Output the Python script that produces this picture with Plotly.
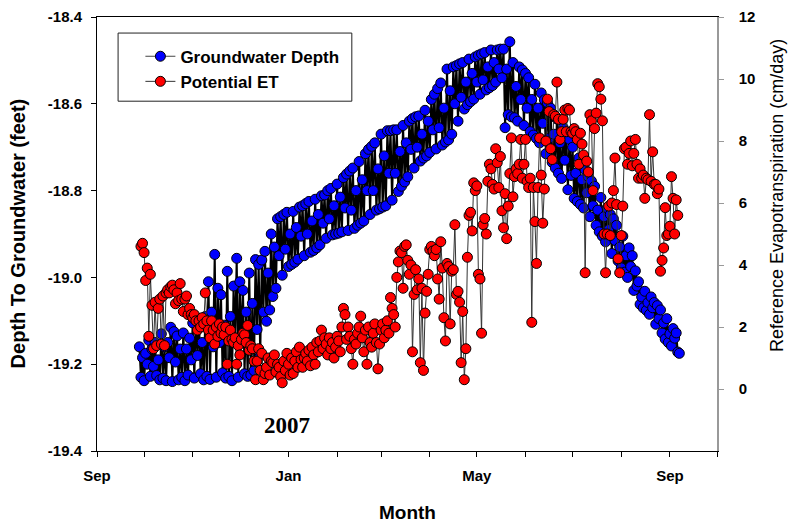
import plotly.graph_objects as go
import pandas as pd

# ---------------- data ----------------
gw_start = "2006-09-28"   # one reading per day (readings swing within the daily range)
gw_depth = [
    -19.160, -19.230, -19.185, -19.238, -19.175, -19.200, -19.145,
    -19.228, -19.165, -19.205, -19.150, -19.226, -19.190, -19.236,
    -19.130, -19.232, -19.160, -19.238, -19.150, -19.185, -19.115,
    -19.240, -19.125, -19.195, -19.135, -19.236, -19.165, -19.230,
    -19.128, -19.238, -19.165, -19.225, -19.140, -19.190, -19.105,
    -19.232, -19.095, -19.180, -19.100, -19.222, -19.150, -19.236,
    -19.090, -19.228, -19.010, -19.235, -19.080, -19.160, -18.947,
    -19.230, -19.025, -19.150, -19.040, -19.220, -19.110, -19.232,
    -18.986, -19.228, -19.090, -19.238, -19.020, -19.140, -18.956,
    -19.230, -19.010, -19.150, -19.030, -19.222, -19.080, -19.228,
    -18.990, -19.225, -19.060, -19.215, -18.959, -19.120, -18.970,
    -19.180, -18.960, -19.080, -18.940, -19.101, -18.990, -19.075,
    -18.900, -19.044, -18.930, -19.025, -18.865, -18.950, -18.860,
    -18.995, -18.855, -18.935, -18.850, -18.975, -18.900, -18.970,
    -18.848, -18.965, -18.885, -18.958, -18.838, -18.905, -18.835,
    -18.950, -18.830, -18.900, -18.825, -18.942, -18.870, -18.938,
    -18.820, -18.932, -18.855, -18.925, -18.812, -18.875, -18.810,
    -18.910, -18.800, -18.865, -18.795, -18.902, -18.835, -18.900,
    -18.785, -18.898, -18.815, -18.895, -18.770, -18.840, -18.762,
    -18.892, -18.755, -18.845, -18.748, -18.887, -18.800, -18.880,
    -18.733, -18.875, -18.775, -18.870, -18.715, -18.800, -18.705,
    -18.855, -18.698, -18.800, -18.690, -18.845, -18.750, -18.842,
    -18.670, -18.838, -18.720, -18.835, -18.662, -18.760, -18.662,
    -18.822, -18.660, -18.760, -18.660, -18.802, -18.710, -18.790,
    -18.650, -18.780, -18.690, -18.768, -18.640, -18.705, -18.634,
    -18.748, -18.630, -18.700, -18.628, -18.732, -18.670, -18.725,
    -18.615, -18.720, -18.640, -18.712, -18.590, -18.660, -18.578,
    -18.704, -18.565, -18.655, -18.552, -18.695, -18.610, -18.688,
    -18.520, -18.683, -18.570, -18.670, -18.515, -18.600, -18.512,
    -18.640, -18.508, -18.585, -18.505, -18.612, -18.550, -18.602,
    -18.497, -18.595, -18.530, -18.589, -18.492, -18.550, -18.488,
    -18.578, -18.485, -18.545, -18.482, -18.568, -18.515, -18.563,
    -18.476, -18.558, -18.505, -18.550, -18.476, -18.520, -18.474,
    -18.540, -18.474, -18.655, -18.520, -18.625, -18.457, -18.630,
    -18.505, -18.632, -18.560, -18.640, -18.515, -18.590, -18.522,
    -18.650, -18.530, -18.610, -18.540, -18.664, -18.590, -18.672,
    -18.555, -18.680, -18.610, -18.690, -18.575, -18.645, -18.591,
    -18.715, -18.598, -18.680, -18.610, -18.735, -18.670, -18.748,
    -18.635, -18.760, -18.690, -18.772, -18.655, -18.730, -18.670,
    -18.798, -18.682, -18.765, -18.700, -18.818, -18.760, -18.825,
    -18.725, -18.832, -18.775, -18.840, -18.752, -18.805, -18.768,
    -18.860, -18.778, -18.835, -18.790, -18.880, -18.845, -18.895,
    -18.816, -18.905, -18.860, -18.918, -18.840, -18.890, -18.855,
    -18.945, -18.865, -18.915, -18.880, -18.962, -18.930, -18.978,
    -18.905, -18.988, -18.950, -19.000, -18.932, -18.975, -18.950,
    -19.030, -18.985, -19.020, -19.010, -19.062, -19.045, -19.070,
    -19.032, -19.076, -19.058, -19.085, -19.045, -19.070, -19.058,
    -19.108, -19.065, -19.095, -19.075, -19.128, -19.105, -19.142,
    -19.095, -19.150, -19.130, -19.158, -19.118, -19.140, -19.128,
    -19.172, -19.175,
]

et_start = "2006-09-29"   # daily reference ET (cm/day)
et_values = [
    4.6, 4.7, 4.4, 3.5, 3.9, 1.7, 3.7, 2.7, 1.3, 2.8,
    1.4, 2.6, 2.9, 1.45, 3.0, 1.4, 3.1, 3.2, 3.1, 3.3,
    3.35, 3.2, 2.75, 3.1, 2.85, 3.4, 2.9, 2.5, 2.9, 3.0,
    2.4, 2.6, 2.4, 2.3, 2.4, 2.2, 1.9, 2.2, 2.0, 2.3,
    2.1, 3.1, 2.2, 1.9, 1.65, 2.2, 1.9, 1.45, 2.0, 1.7,
    2.1, 1.8, 2.0, 1.75, 2.0, 0.8, 1.55, 1.9, 1.6, 1.5,
    1.65, 0.8, 1.4, 1.1, 1.6, 1.8, 1.75, 1.5, 2.05, 1.25,
    1.4, 1.3, 0.9, 0.3, 0.9, 1.3, 0.6, 1.15, 0.3, 0.5,
    0.7, 1.0, 0.45, 0.9, 0.85, 1.1, 0.55, 0.8, 0.7, 0.4,
    0.2, 0.9, 0.6, 1.15, 0.8, 0.45, 1.0, 0.5, 0.9, 1.2,
    0.7, 1.35, 0.95, 0.7, 1.0, 1.15, 0.9, 1.25, 0.75, 1.35,
    1.1, 0.8, 1.5, 1.2, 1.55, 1.9, 1.3, 1.65, 1.45, 1.1,
    1.65, 1.3, 1.5, 1.0, 1.35, 1.7, 1.55, 1.2, 2.0, 2.6,
    2.4, 1.6, 2.0, 1.7, 1.3, 0.8, 1.6, 1.45, 1.8, 2.0,
    2.35, 1.65, 1.2, 1.9, 0.8, 2.0, 1.5, 1.35, 1.8, 2.1,
    1.5, 0.65, 1.45, 1.9, 2.1, 1.65, 1.9, 2.2, 1.8, 2.95,
    2.6, 2.4, 2.0, 3.6, 4.1, 4.45, 4.4, 3.25, 4.6, 4.65,
    4.15, 3.7, 4.0, 1.2, 3.05, 3.85, 3.2, 3.55, 0.85, 3.25,
    0.6, 2.45, 3.15, 3.7, 4.5, 4.6, 4.45, 4.3, 4.5, 3.55,
    2.9, 4.75, 3.9, 2.3, 1.55, 4.05, 3.95, 2.1, 3.8, 3.85,
    5.3, 3.05, 3.15, 2.8, 0.85, 2.5, 0.3, 1.3, 4.25, 5.6,
    5.7, 5.1, 6.65, 6.4, 6.55, 3.7, 3.55, 1.8, 5.3, 5.5,
    5.0, 6.7, 7.25, 7.1, 6.6, 6.45, 7.75, 7.3, 6.5, 7.5,
    5.75, 5.2, 6.3, 4.85, 5.9, 6.95, 8.1, 6.2, 6.85, 7.1,
    6.95, 7.25, 8.05, 6.8, 7.25, 8.05, 6.7, 6.5, 6.8, 2.15,
    6.5, 5.4, 4.05, 6.5, 8.1, 6.9, 5.35, 6.45, 8.0, 9.35,
    8.95, 7.75, 7.4, 8.85, 8.8, 9.9, 8.7, 8.05, 8.3, 8.7,
    9.0, 8.3, 9.05, 9.0, 8.3, 8.25, 8.4, 8.3, 8.05, 7.25,
    8.25, 7.9, 7.55, 3.75, 7.35, 7.0, 8.85, 8.65, 6.4, 8.4,
    8.9, 9.85, 9.75, 9.35, 8.65, 5.0, 3.75, 5.0, 5.9, 4.95,
    6.0, 6.4, 7.45, 5.95, 4.2, 3.75, 4.95, 5.9, 7.75, 7.8,
    7.25, 7.6, 8.0, 7.2, 7.6, 8.05, 7.25, 6.8, 7.1, 6.8,
    6.9, 6.15, 6.8, 6.75, 8.85, 6.7, 7.65, 6.6, 6.6, 6.3,
    6.45, 3.8, 4.15, 4.55, 5.85, 4.95, 5.0, 5.25, 6.85, 6.15,
    5.0, 6.1, 5.6,
]

month_ticks = ["2006-09-01", "2006-10-01", "2006-11-01", "2006-12-01",
               "2007-01-01", "2007-02-01", "2007-03-01", "2007-04-01",
               "2007-05-01", "2007-06-01", "2007-07-01", "2007-08-01",
               "2007-09-01", "2007-10-01"]
month_labels = ["Sep", "", "", "", "Jan", "", "", "", "May", "", "", "", "Sep", ""]

depth_ticks = [-19.4, -19.2, -19.0, -18.8, -18.6, -18.4]
depth_labels = ["-19.4", "-19.2", "-19.0", "-18.8", "-18.6", "-18.4"]
et_ticks = [0, 2, 4, 6, 8, 10, 12]

# ---------------- figure ----------------
gw_dates = pd.date_range(gw_start, periods=len(gw_depth), freq="D")
et_dates = pd.date_range(et_start, periods=len(et_values), freq="D")

SANS = "Liberation Sans, Arial, sans-serif"
BLUE_MARKER = dict(color="#0000ff", size=10, line=dict(color="black", width=1))
RED_MARKER = dict(color="#ff0000", size=10, line=dict(color="black", width=1))

fig = go.Figure()
fig.add_trace(go.Scatter(
    x=gw_dates, y=gw_depth, mode="lines+markers", name="Groundwater Depth",
    line=dict(color="#000000", width=2), marker=BLUE_MARKER,
    showlegend=False, legendgroup="gw", yaxis="y"))
# legend entry with the thin connector line used in the original key
fig.add_trace(go.Scatter(
    x=[None], y=[None], mode="lines+markers", name="Groundwater Depth",
    line=dict(color="#444444", width=1), marker=BLUE_MARKER,
    legendgroup="gw", yaxis="y"))
fig.add_trace(go.Scatter(
    x=et_dates, y=et_values, mode="lines+markers", name="Potential ET",
    line=dict(color="#333333", width=1), marker=RED_MARKER,
    yaxis="y2"))

fig.update_layout(
    width=790, height=518,
    margin=dict(l=89, r=81, t=9, b=75, autoexpand=False),
    paper_bgcolor="white", plot_bgcolor="white",
    font=dict(family=SANS, color="black"),
    showlegend=True,
    legend=dict(x=0.07, y=0.950, xanchor="left", yanchor="top",
                bgcolor="rgba(0,0,0,0)", borderwidth=0,
                font=dict(family=SANS, size=17, weight="bold"),
                tracegroupgap=0),
    xaxis=dict(
        type="date", range=["2006-09-01", "2007-10-01"],
        tickvals=month_ticks, ticktext=month_labels,
        ticks="outside", ticklen=5, tickcolor="black", tickwidth=1,
        showline=True, linecolor="black", linewidth=1, mirror=True,
        showgrid=False, zeroline=False, automargin=False,
        tickfont=dict(family=SANS, size=15, weight="bold"),
        ticklabelstandoff=6),
    yaxis=dict(
        range=[-19.4, -18.4], tickvals=depth_ticks, ticktext=depth_labels,
        ticks="outside", ticklen=5, tickcolor="black",
        showline=True, linecolor="black", linewidth=1,
        showgrid=False, zeroline=False, automargin=False,
        ticklabeloverflow="allow",
        tickfont=dict(family=SANS, size=15, weight="bold"),
        ticklabelstandoff=6),
    yaxis2=dict(
        range=[-2, 12], tickvals=et_ticks, overlaying="y", side="right",
        ticks="outside", ticklen=5, tickcolor="#999999",
        showline=True, linecolor="#999999", linewidth=1.5,
        showgrid=False, zeroline=False, automargin=False,
        ticklabeloverflow="allow",
        tickfont=dict(family=SANS, size=15, weight="bold"),
        ticklabelstandoff=12),
    shapes=[dict(type="rect", xref="paper", yref="paper",
                 x0=0.034, x1=0.411, y0=0.806, y1=0.963,
                 line=dict(color="#222222", width=1), fillcolor="rgba(0,0,0,0)")],
    annotations=[
        dict(text="Depth To Groundwater (feet)", xref="paper", yref="paper",
             x=-0.127, y=0.502, textangle=-90, showarrow=False,
             xanchor="center", yanchor="middle",
             font=dict(family=SANS, size=20, weight="bold")),
        dict(text="Reference Evapotranspiration (cm/day)", xref="paper", yref="paper",
             x=1.097, y=0.588, textangle=-90, showarrow=False,
             xanchor="center", yanchor="middle",
             font=dict(family=SANS, size=18)),
        dict(text="Month", xref="paper", yref="paper",
             x=0.5, y=-0.141, showarrow=False, xanchor="center", yanchor="middle",
             font=dict(family=SANS, size=19, weight="bold")),
        dict(text="2007", xref="paper", yref="paper",
             x=0.306, y=0.058, showarrow=False, xanchor="center", yanchor="middle",
             font=dict(family="Liberation Serif, Times New Roman, serif", size=23,
                       weight="bold")),
    ],
)

fig.write_html("out.html")
